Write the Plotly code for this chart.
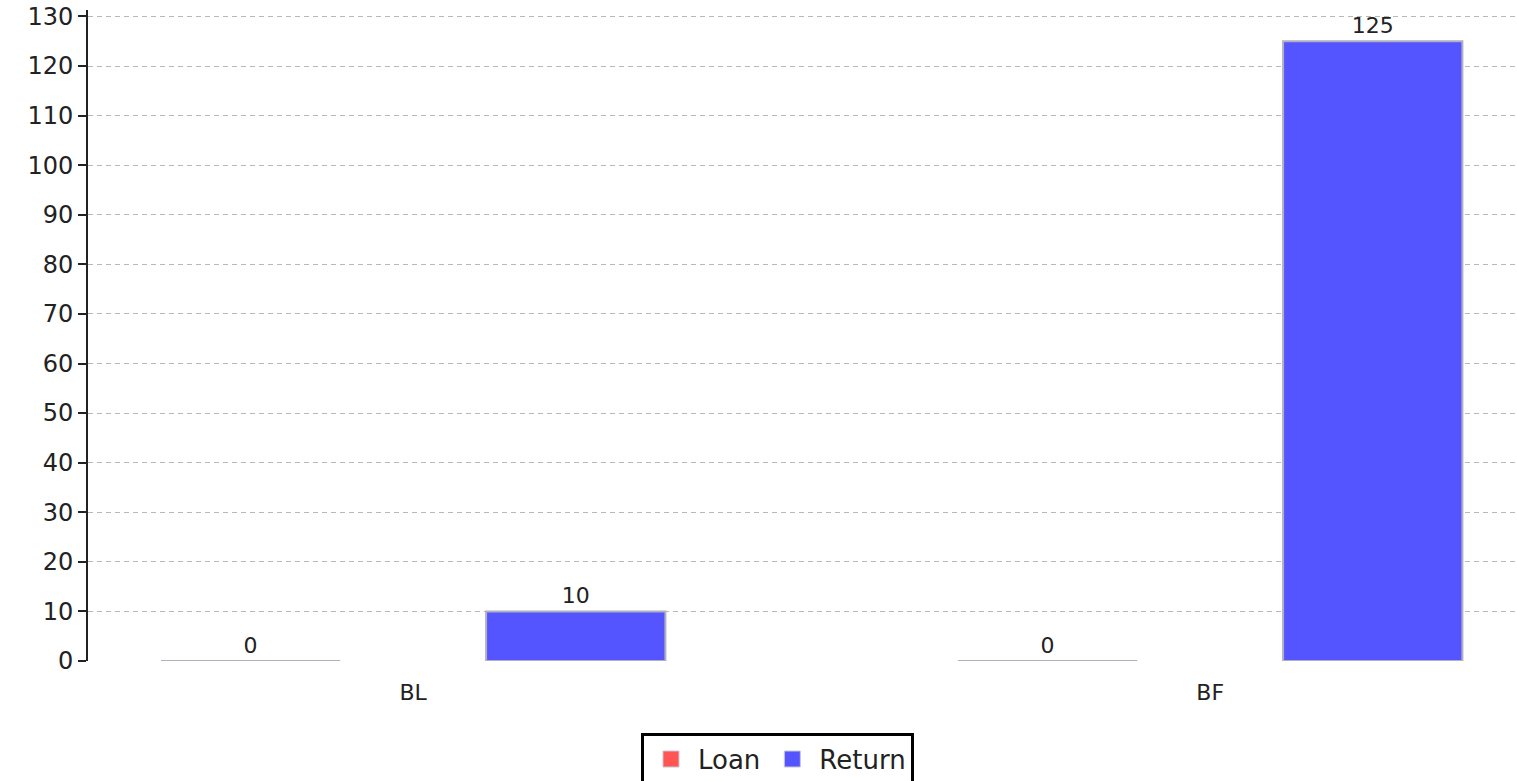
import plotly.graph_objects as go

categories = ["BL", "BF"]
loan = [0, 0]
returns = [10, 125]
series_names = ["Loan", "Return"]
colors = ["#FF5555", "#5555FF"]

font_family = "DejaVu Sans, Verdana, sans-serif"
bar_w = 0.225

fig = go.Figure()
for name, vals, col, off in [
    (series_names[0], loan, colors[0], -0.204 - bar_w / 2),
    (series_names[1], returns, colors[1], 0.204 - bar_w / 2),
]:
    fig.add_trace(go.Bar(
        x=categories, y=vals, name=name, showlegend=False,
        marker=dict(color=col, line=dict(color="#b0b0c0", width=2)),
        width=bar_w, offset=off,
        text=[str(v) for v in vals], textposition="outside",
        textfont=dict(family=font_family, size=22, color="#222222"),
        cliponaxis=False,
    ))

# legend entries with larger square swatches
for name, col in zip(series_names, colors):
    fig.add_trace(go.Scatter(
        x=[None], y=[None], mode="markers", name=name,
        marker=dict(symbol="square", size=18, color=col,
                    line=dict(color="#c8c8d0", width=1)),
    ))

fig.update_layout(
    width=1517, height=781,
    margin=dict(l=88, r=0, t=10, b=120, autoexpand=False),
    paper_bgcolor="white", plot_bgcolor="white",
    barmode="overlay",
    showlegend=True,
    legend=dict(
        orientation="h", x=0.4825, xanchor="center", y=-0.11, yanchor="top",
        bordercolor="black", borderwidth=3,
        font=dict(family=font_family, size=26, color="#222222"),
        traceorder="normal", itemwidth=44, itemsizing="trace",
    ),
    font=dict(family=font_family, color="#222222"),
)
fig.update_xaxes(
    type="category", range=[-0.408, 1.385],
    showgrid=False, showline=False, zeroline=False, ticks="",
    tickfont=dict(size=22, color="#222222"),
    ticklabelstandoff=16, automargin=False,
)
fig.update_yaxes(
    range=[0, 131.3], tickvals=list(range(0, 131, 10)),
    showgrid=True, gridcolor="#b8b8b8", griddash="5px,4px", gridwidth=1,
    zeroline=False,
    showline=True, linecolor="#222222", linewidth=2,
    ticks="outside", ticklen=8, tickcolor="#222222", tickwidth=2,
    tickfont=dict(size=24, color="#222222"),
    automargin=False,
)

fig.write_html(
    "out.html",
    config={"displayModeBar": False},
    post_script="document.body.style.margin='0';document.body.style.overflow='hidden';",
)
